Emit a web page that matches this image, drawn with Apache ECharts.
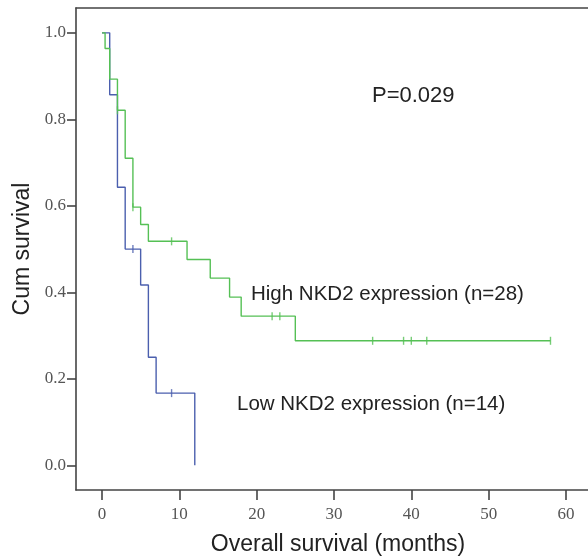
<!DOCTYPE html>
<html>
<head>
<meta charset="utf-8">
<script src="https://cdn.jsdelivr.net/npm/echarts@6/dist/echarts.min.js"></script>
<style>
  html, body { margin: 0; padding: 0; background: #fff; }
  #chart { width: 588px; height: 558px; }
</style>
</head>
<body>
<div id="chart"></div>
<script>
// Kaplan-Meier steps: [month, cum survival]
const highSteps = [
  [0, 1.0], [0.4, 0.964], [1, 0.893], [2, 0.821], [3, 0.710], [4, 0.597],
  [5, 0.557], [6, 0.518], [11, 0.476], [14, 0.433], [16.5, 0.389],
  [18, 0.345], [25, 0.288], [58, 0.288]
];
const highCensored = [
  [2, 0.821], [4, 0.597], [9, 0.518], [22, 0.345], [23, 0.345],
  [35, 0.288], [39, 0.288], [40, 0.288], [42, 0.288], [58, 0.288]
];
const lowSteps = [
  [0, 1.0], [1, 0.857], [2, 0.643], [3, 0.5], [5, 0.417],
  [6, 0.25], [7, 0.167], [12, 0.0]
];
const lowCensored = [[4, 0.5], [9, 0.167]];

const xTicks = [0, 10, 20, 30, 40, 50, 60];
const yTicks = [0, 0.2, 0.4, 0.6, 0.8, 1.0];

const GREEN = '#55c055';
const BLUE = '#4b5fae';
const AXIS = '#444';
const LABEL = '#555';

const chart = echarts.init(document.getElementById('chart'));

const censorMark = (color) => ({
  symbol: 'rect',
  symbolSize: [1.4, 8],
  itemStyle: {color: color}
});

chart.setOption({
  animation: false,
  grid: {left: 76, right: 0, top: 8, bottom: 68, outerBoundsMode: 'none'},
  xAxis: [{
    type: 'value',
    min: -3.36,
    max: 62.85,
    splitLine: {show: false},
    axisLine: {onZero: false, lineStyle: {color: AXIS, width: 1.6}},
    axisTick: {customValues: xTicks, length: 10, lineStyle: {color: AXIS, width: 1.6}},
    axisLabel: {
      customValues: xTicks, margin: 16,
      color: LABEL, fontFamily: 'Liberation Serif', fontSize: 17
    },
    name: 'Overall survival (months)',
    nameLocation: 'middle',
    nameGap: 43,
    nameTextStyle: {
      color: '#222', fontFamily: 'Liberation Sans', fontSize: 23,
      padding: [0, 0, 0, 12]
    }
  }, {
    type: 'value',
    position: 'top',
    min: -3.36,
    max: 62.85,
    splitLine: {show: false},
    axisLine: {onZero: false, lineStyle: {color: AXIS, width: 1.6}},
    axisTick: {show: false},
    axisLabel: {show: false}
  }],
  yAxis: {
    type: 'value',
    min: -0.057,
    max: 1.0575,
    splitLine: {show: false},
    axisLine: {onZero: false, lineStyle: {color: AXIS, width: 1.6}},
    axisTick: {customValues: yTicks, length: 9, lineStyle: {color: AXIS, width: 1.6}},
    axisLabel: {
      customValues: yTicks, margin: 10,
      formatter: v => v.toFixed(1),
      color: LABEL, fontFamily: 'Liberation Serif', fontSize: 17
    },
    name: 'Cum survival',
    nameLocation: 'middle',
    nameGap: 41,
    nameTextStyle: {color: '#222', fontFamily: 'Liberation Sans', fontSize: 23}
  },
  series: [
    {
      type: 'line', step: 'end', data: highSteps, showSymbol: false,
      lineStyle: {color: GREEN, width: 1.4}, z: 3
    },
    {
      type: 'line', step: 'end', data: lowSteps, showSymbol: false,
      lineStyle: {color: BLUE, width: 1.4}, z: 2
    },
    Object.assign({type: 'scatter', data: highCensored, z: 4}, censorMark(GREEN)),
    Object.assign({type: 'scatter', data: lowCensored, z: 4}, censorMark(BLUE))
  ],
  graphic: [
    {type: 'text', x: 372, y: 96, style: {
      text: 'P=0.029', fill: '#222', font: '22px "Liberation Sans"', verticalAlign: 'middle'
    }},
    {type: 'text', x: 251, y: 294, style: {
      text: 'High NKD2 expression (n=28)', fill: '#222', font: '20.5px "Liberation Sans"', verticalAlign: 'middle'
    }},
    {type: 'text', x: 237, y: 404, style: {
      text: 'Low NKD2 expression (n=14)', fill: '#222', font: '20.5px "Liberation Sans"', verticalAlign: 'middle'
    }}
  ]
});
</script>
</body>
</html>
